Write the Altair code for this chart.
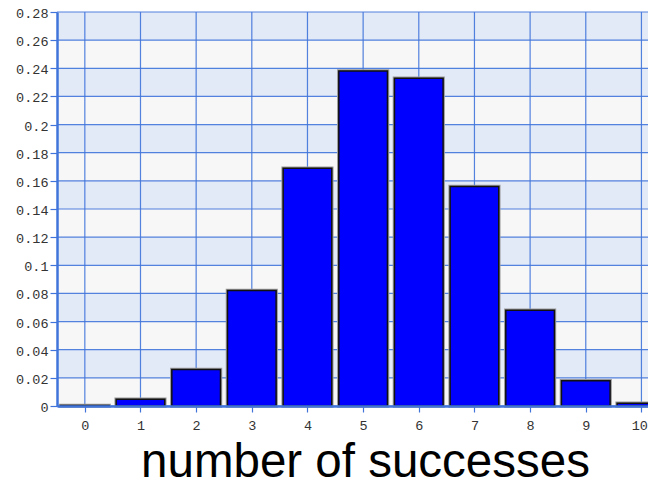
import altair as alt
import pandas as pd

# ---- data ----
successes = [0, 1, 2, 3, 4, 5, 6, 7, 8, 9, 10]
probabilities = [0.0004, 0.0048, 0.026, 0.082, 0.169, 0.238, 0.233, 0.156, 0.068, 0.018, 0.002]
y_ticks = [0, 0.02, 0.04, 0.06, 0.08, 0.1, 0.12, 0.14, 0.16, 0.18, 0.2, 0.22, 0.24, 0.26, 0.28]
chart_title = ["Binomial"]
x_title = ["number of successes"]

# ---- layout / style ----
W, H = 591, 394
GRID = "#4074da"
BAND_COLORS = ["#f7f7f7", "#e2e9f7"]
LABEL_FONT = "Liberation Mono"
TITLE_FONT = "Liberation Sans"

bars_df = pd.DataFrame({"k": successes, "p": probabilities})
bands_df = pd.DataFrame({
    "lo": y_ticks[:-1],
    "hi": y_ticks[1:],
    "parity": [i % 2 for i in range(len(y_ticks) - 1)],
})
yt_df = pd.DataFrame({"v": y_ticks})

xscale = alt.Scale(domain=[-0.5, 10.118], nice=False, zero=False)
yscale = alt.Scale(domain=[0, 0.28], nice=False, zero=False)

last_k = successes[-1]
xaxis = alt.Axis(
    values=successes, format="d", grid=False, zindex=1,
    domainColor=GRID, domainWidth=2.5, tickColor=GRID, tickWidth=1.2, tickSize=6,
    labelFont=LABEL_FONT, labelFontSize=13.5, labelColor="#333333", labelPadding=6,
    labelAlign={"condition": {"test": f"datum.value == {last_k}", "value": "right"}, "value": "center"},
    labelOffset={"condition": {"test": f"datum.value == {last_k}", "value": 6}, "value": 0},
    labelOverlap=False, labelFlush=False, title=None)
yaxis = alt.Axis(
    values=y_ticks, format="~g", grid=False, zindex=1,
    domainColor=GRID, domainWidth=2.5, tickColor=GRID, tickWidth=1.2, tickSize=7,
    labelFont=LABEL_FONT, labelFontSize=13.5, labelColor="#333333", labelPadding=2,
    labelOffset=1.5,
    labelOverlap=False, labelFlush=False, title=None)

bands = alt.Chart(bands_df).mark_rect().encode(
    x=alt.value(0), x2=alt.value(W),
    y=alt.Y("lo:Q", scale=yscale, axis=yaxis, title=None), y2="hi:Q",
    fill=alt.Fill("parity:O", scale=alt.Scale(domain=[0, 1], range=BAND_COLORS), legend=None),
)

vgrid = alt.Chart(bars_df).mark_rule(color=GRID, strokeWidth=1.2, opacity=0.9).encode(
    x=alt.X("k:Q", scale=xscale, axis=xaxis, title=None)
)
hgrid = alt.Chart(yt_df).mark_rule(color=GRID, strokeWidth=1.2, opacity=0.9).encode(
    y=alt.Y("v:Q", scale=yscale, axis=yaxis, title=None)
)

bar_base = alt.Chart(bars_df).transform_calculate(
    lo="datum.k - 0.437", hi="datum.k + 0.437"
)
halo = bar_base.mark_rect(fill="#0000ff", stroke="#9a9a9a", strokeWidth=3.5).encode(
    x=alt.X("lo:Q", scale=xscale, axis=xaxis, title=None), x2="hi:Q",
    y=alt.Y("p:Q", scale=yscale, axis=yaxis, title=None), y2=alt.value(H),
)
bars = bar_base.mark_rect(fill="#0000ff", stroke="#111111", strokeWidth=1.5).encode(
    x=alt.X("lo:Q", scale=xscale, axis=xaxis, title=None), x2="hi:Q",
    y=alt.Y("p:Q", scale=yscale, axis=yaxis, title=None), y2=alt.value(H),
)

title_txt = alt.Chart(pd.DataFrame({"t": chart_title})).mark_text(
    font=TITLE_FONT, fontSize=48, color="black", baseline="alphabetic", align="center"
).encode(x=alt.value(243), y=alt.value(-9), text="t:N")

xtitle_txt = alt.Chart(pd.DataFrame({"t": x_title})).mark_text(
    font=TITLE_FONT, fontSize=47.5, color="black", baseline="alphabetic", align="center"
).encode(x=alt.value(308.5), y=alt.value(465), text="t:N")

chart = alt.layer(bands, vgrid, hgrid, halo, bars, title_txt, xtitle_txt).properties(
    width=W, height=H,
    autosize=alt.AutoSizeParams(type="none"),
    padding={"left": 49, "top": 4, "right": 0, "bottom": 71},
).configure_view(strokeWidth=0).configure(background="white")

chart.save("out.html", embed_options={"renderer": "svg", "actions": False})
